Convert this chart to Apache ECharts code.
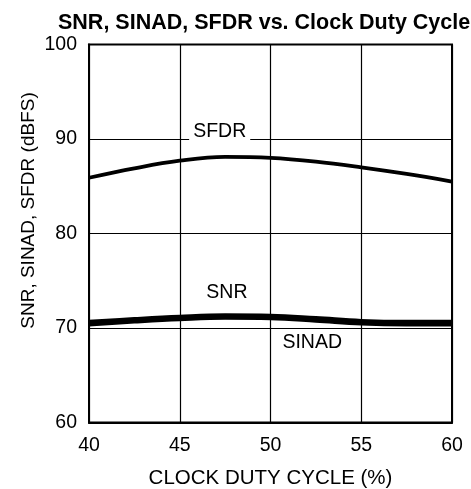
<!DOCTYPE html>
<html>
<head>
  <title>SNR, SINAD, SFDR vs. Clock Duty Cycle</title>
  <style>
    body { margin: 0; padding: 0; background-color: #ffffff; }
    #chart { width: 471px; height: 489px; }
  </style>
</head>
<body>
  <div id="chart"></div>
  <script src="https://cdn.jsdelivr.net/npm/echarts@6/dist/echarts.min.js"></script>
  <script>
    // values
    var dutyCycle = [40, 42.5, 45, 47.5, 50, 52.5, 55, 57.5, 60];
    var sfdr  = [85.9, 86.9, 87.7, 88.1, 88.0, 87.6, 87.0, 86.3, 85.5];
    var snr   = [70.65, 70.95, 71.2, 71.35, 71.3, 71.05, 70.75, 70.65, 70.65];
    var sinad = [70.35, 70.65, 70.9, 71.05, 71.0, 70.75, 70.45, 70.35, 70.35];

    var xTicks = [40, 45, 50, 55, 60];
    var yTicks = [60, 70, 80, 90, 100];

    // curve labels, in data units
    var curveLabels = [
      { text: 'SFDR',  at: [47.2, 90.75], box: true },
      { text: 'SNR',   at: [47.6, 73.7],  box: false },
      { text: 'SINAD', at: [52.3, 68.5],  box: false }
    ];

    var font = 'Liberation Sans, Arial, sans-serif';

    function pairs(ys) {
      return dutyCycle.map(function (x, i) { return [x, ys[i]]; });
    }

    function lineSeries(name, ys, width) {
      return {
        name: name,
        type: 'line',
        data: pairs(ys),
        smooth: 0.4,
        showSymbol: false,
        lineStyle: { color: '#000000', width: width },
        z: 3
      };
    }

    var labelSeries = {
      type: 'scatter',
      data: [],
      silent: true,
      markPoint: {
        symbolSize: 0,
        silent: true,
        data: curveLabels.map(function (l) {
          return {
            coord: l.at,
            value: l.text,
            label: {
              show: true,
              position: 'inside',
              formatter: l.text,
              color: '#000000',
              fontFamily: font,
              fontSize: 19.5,
              backgroundColor: l.box ? '#ffffff' : 'transparent',
              padding: l.box ? [2, 4, 3, 4] : 0
            }
          };
        })
      },
      z: 5
    };

    var option = {
      animation: false,
      title: {
        text: 'SNR, SINAD, SFDR vs. Clock Duty Cycle',
        left: 53,
        top: 0,
        textStyle: { fontFamily: font, fontSize: 21.5, fontWeight: 'bold', color: '#000000' }
      },
      grid: {
        left: 89,
        right: 19,
        top: 44.5,
        bottom: 66.5,
        outerBoundsMode: 'none',
        containLabel: false,
        show: true,
        borderColor: '#000000',
        borderWidth: 2
      },
      xAxis: {
        type: 'value',
        min: xTicks[0],
        max: xTicks[xTicks.length - 1],
        interval: 5,
        name: 'CLOCK DUTY CYCLE (%)',
        nameLocation: 'middle',
        nameGap: 38,
        nameMoveOverlap: false,
        nameTextStyle: { fontFamily: font, fontSize: 20.5, color: '#000000' },
        axisLine: { show: true, lineStyle: { color: '#000000', width: 2 } },
        axisTick: { show: false },
        axisLabel: { fontFamily: font, fontSize: 19.5, color: '#000000', margin: 6 },
        splitLine: { show: true, lineStyle: { color: '#000000', width: 1.2 } }
      },
      yAxis: {
        type: 'value',
        min: yTicks[0],
        max: yTicks[yTicks.length - 1],
        interval: 10,
        name: 'SNR, SINAD, SFDR (dBFS)',
        nameLocation: 'middle',
        nameGap: 44,
        nameMoveOverlap: false,
        nameTextStyle: { fontFamily: font, fontSize: 19, color: '#000000', padding: [0, 0, 0, 46] },
        axisLine: { show: true, lineStyle: { color: '#000000', width: 2 } },
        axisTick: { show: false },
        axisLabel: { fontFamily: font, fontSize: 19.5, color: '#000000', margin: 12 },
        splitLine: { show: true, lineStyle: { color: '#000000', width: 1.2 } }
      },
      series: [
        lineSeries('SFDR', sfdr, 3.8),
        lineSeries('SNR', snr, 4),
        lineSeries('SINAD', sinad, 3.5),
        labelSeries
      ]
    };

    var chart = echarts.init(document.getElementById('chart'));
    chart.setOption(option);
  </script>
</body>
</html>
